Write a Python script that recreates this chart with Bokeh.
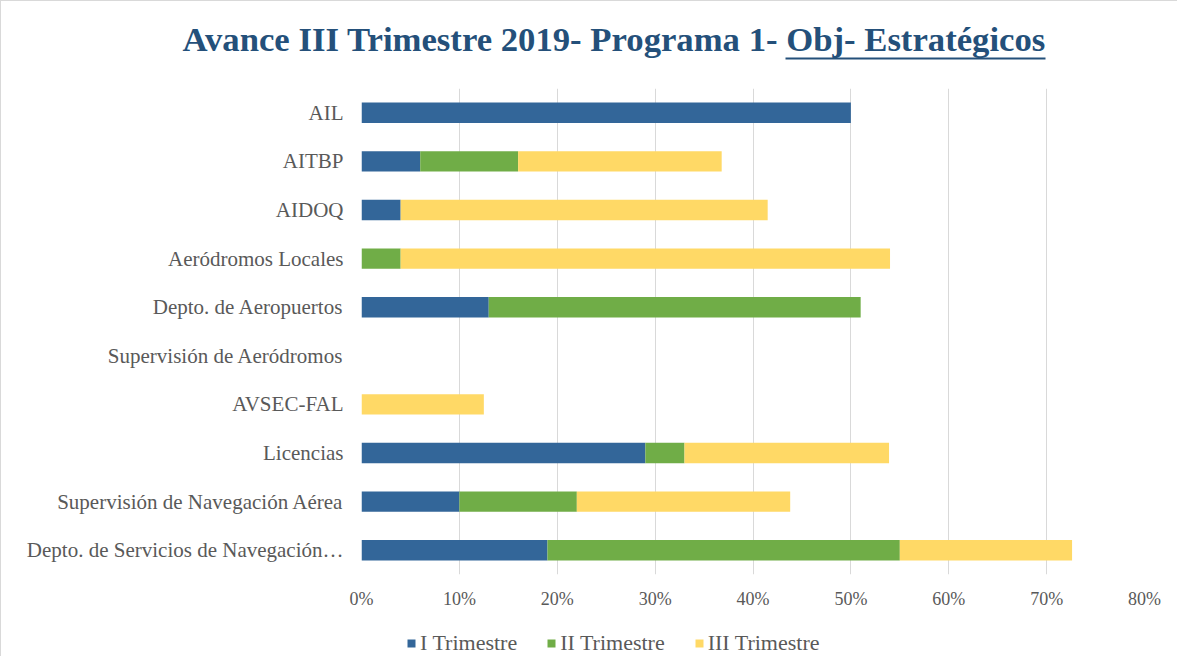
from bokeh.plotting import figure
from bokeh.layouts import column
from bokeh.models import (ColumnDataSource, FactorRange, Range1d, FixedTicker,
                          NumeralTickFormatter, Legend, LegendItem, LinearAxis, Title)
from bokeh.embed import file_html
from bokeh.resources import INLINE

# Categories, top to bottom as shown
categories = [
    "AIL",
    "AITBP",
    "AIDOQ",
    "Aeródromos Locales",
    "Depto. de Aeropuertos",
    "Supervisión de Aeródromos",
    "AVSEC-FAL",
    "Licencias",
    "Supervisión de Navegación Aérea",
    "Depto. de Servicios de Navegación…",
]
series = ["I Trimestre", "II Trimestre", "III Trimestre"]
trim_1 = [0.50, 0.06, 0.04, 0.00, 0.13, 0.00, 0.00, 0.29, 0.10, 0.19]
trim_2 = [0.00, 0.10, 0.00, 0.04, 0.38, 0.00, 0.00, 0.04, 0.12, 0.36]
trim_3 = [0.00, 0.208, 0.375, 0.50, 0.00, 0.00, 0.125, 0.209, 0.218, 0.176]
x_ticks = [0, 0.1, 0.2, 0.3, 0.4, 0.5, 0.6, 0.7, 0.8]
title_main = "Avance III Trimestre 2019- Programa 1- Obj- Estratégicos"

colors = ["#336699", "#70AD47", "#FFD966"]
text_col = "#595959"
title_col = "#24507A"
font = "Liberation Serif"

src = ColumnDataSource(data=dict(cat=categories, I=trim_1, II=trim_2, III=trim_3))

p = figure(width=1177, height=620, output_backend="svg", toolbar_location=None,
           y_range=FactorRange(factors=list(reversed(categories))),
           x_range=Range1d(0, 0.8),
           min_border_left=360, min_border_right=34, min_border_top=87, min_border_bottom=47)
p.styles = {"border-left": "1px solid #d9d9d9", "border-top": "1px solid #d9d9d9"}
p.extra_x_ranges = {"px": Range1d(0, 783)}

renderers = p.hbar_stack(["I", "II", "III"], y="cat", height=0.42, color=colors,
                         line_color=None, source=src)

p.outline_line_color = None
p.background_fill_color = "white"
p.border_fill_color = "white"

# x axis
p.xaxis.ticker = FixedTicker(ticks=x_ticks)
p.xaxis.formatter = NumeralTickFormatter(format="0%")
p.xaxis.axis_line_color = None
p.xaxis.major_tick_line_color = None
p.xaxis.minor_tick_line_color = None
p.xaxis.major_tick_out = 0
p.xaxis.minor_tick_out = 0
p.xaxis.major_label_text_font = font
p.xaxis.major_label_text_font_size = "18px"
p.xaxis.major_label_text_color = text_col
p.xaxis.major_label_standoff = 14

# y axis
p.yaxis.axis_line_color = None
p.yaxis.major_tick_line_color = None
p.yaxis.minor_tick_line_color = None
p.yaxis.major_tick_out = 0
p.yaxis.minor_tick_out = 0
p.yaxis.major_label_text_font = font
p.yaxis.major_label_text_font_size = "21px"
p.yaxis.major_label_text_color = text_col
p.yaxis.major_label_standoff = 18

p.xgrid.grid_line_color = "#d9d9d9"
p.xgrid.grid_line_width = 1
p.ygrid.grid_line_color = None

# spacer between frame and title underline
p.add_layout(LinearAxis(x_range_name="px", ticker=FixedTicker(ticks=[0]),
                        major_label_overrides={0: ""}, major_label_text_font_size="1px",
                        major_label_standoff=0, axis_line_color=None,
                        major_tick_out=30, major_tick_in=0, major_tick_line_color="white",
                        minor_tick_out=0, minor_tick_line_color=None), "above")
# underline of "Obj- Estratégicos"
underline = LinearAxis(x_range_name="px", ticker=FixedTicker(ticks=[]), bounds=(423.5, 683.5),
                       axis_line_color=title_col, axis_line_width=2,
                       major_tick_out=0, minor_tick_out=0,
                       major_tick_line_color=None, minor_tick_line_color=None)
p.add_layout(underline, "above")

p.title = Title(text=title_main, align="left", offset=-179,
                text_font=font, text_font_style="bold", text_font_size="34.7px",
                text_color=title_col, standoff=0)

# legend strip below the chart (frame is aligned with the chart's frame)
q = figure(width=1177, height=36, output_backend="svg", toolbar_location=None,
           x_range=Range1d(0, 1), y_range=Range1d(0, 1),
           x_axis_location=None, y_axis_location=None,
           min_border_left=0, min_border_right=0, min_border_top=0, min_border_bottom=0)
q.styles = {"border-left": "1px solid #d9d9d9"}
q.grid.visible = False
q.outline_line_color = None
q.background_fill_color = "white"
q.border_fill_color = "white"
# legend swatch carriers (placed outside the visible range)
swatches = [q.hbar(y=[-5], left=[0], right=[0], height=0.5, color=c, line_color=None)
            for c in colors]

legend = Legend(items=[LegendItem(label=s, renderers=[r]) for s, r in zip(series, swatches)],
                orientation="horizontal", location=(45, 0),
                label_text_font=font, label_text_font_size="22px",
                label_text_color=text_col, glyph_width=10, glyph_height=10,
                label_standoff=4, spacing=29, border_line_color=None,
                background_fill_alpha=0, padding=0, margin=0)
q.add_layout(legend, "center")

open("out.html", "w").write(file_html(column(p, q, spacing=0), INLINE))
